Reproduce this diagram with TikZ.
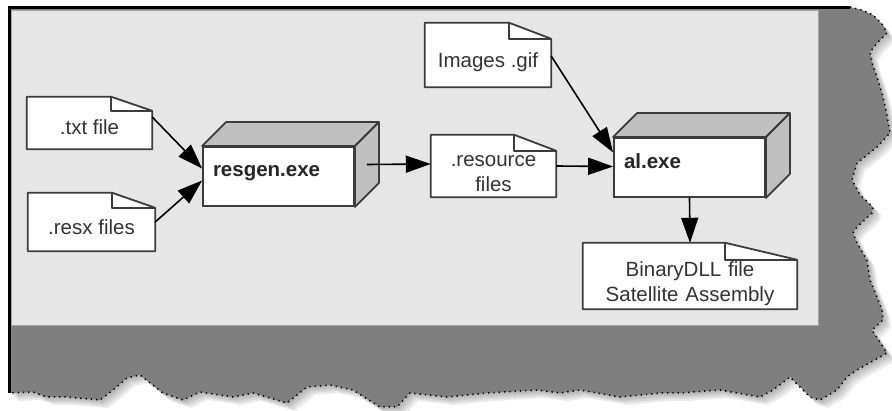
\documentclass[tikz,border=0pt]{standalone}
\usepackage{fontspec}
\setmainfont{Liberation Sans}
\usetikzlibrary{arrows.meta}
\definecolor{paper}{HTML}{E6E6E6}
\definecolor{sheetgray}{HTML}{7F7F7F}
\definecolor{face}{HTML}{C0C0C0}
\definecolor{edge}{HTML}{3C3C3C}
\definecolor{ink}{HTML}{333333}
\pgfdeclarelayer{bg}
\pgfsetlayers{bg,main}
\begin{document}
\begin{tikzpicture}[x=1pt,y=-1pt,
  font=\fontsize{20.5}{24.5}\selectfont,
  doc/.style={inner sep=0pt, align=center, text=ink, text depth=0pt},
  docline/.style={draw=edge, line width=1.8pt, fill=white, line join=round},
  exe/.style={draw=edge, line width=1.8pt, fill=white, minimum width=151pt,
    minimum height=59pt, text width=131pt, inner xsep=10pt, inner ysep=0pt, align=left,
    font=\fontsize{20.5}{24.5}\selectfont\bfseries, text depth=12pt, text=black!85},
  cubeface/.style={draw=edge, line width=1.8pt, fill=face, line join=round},
  flow/.style={draw=black, line width=1.6pt, -{Triangle[length=25pt,width=17pt]}},
  torn/.style={draw=black, line width=1.5pt, dash pattern=on 1.3pt off 4pt}
]
\useasboundingbox (0,0) rectangle (892,411);

\def\tornpath{(850,7) -- (862,10) -- (873,15) -- (882,24) -- (887,33) -- (878,42) -- (870,52) -- (872,63) -- (878,80) -- (883,97) -- (887,115) -- (890,133) -- (877,147) -- (857,163) -- (852,180) -- (860,195) -- (873,207) -- (872,213) -- (857,227) -- (853,233) -- (857,243) -- (867,260) -- (870,280) -- (877,297) -- (882,310) -- (883,320) -- (872,330) -- (887,353) -- (857,370) -- (847,377) -- (837,390) -- (820,400) -- (810,397) -- (790,377) -- (773,390) -- (760,397) -- (720,390) -- (680,393) -- (660,393) -- (620,397) -- (580,390) -- (560,393) -- (537,390) -- (487,393) -- (447,397) -- (410,393) -- (397,407) -- (380,407) -- (353,390) -- (330,385) -- (307,387) -- (287,403) -- (253,393) -- (233,397) -- (200,392) -- (183,400) -- (163,393) -- (140,375) -- (127,378) -- (113,390) -- (100,400) -- (67,397) -- (47,397) -- (33,392) -- (10,393)}

\begin{pgfonlayer}{bg}
  % soft shadow of the torn sheet
  \foreach \s in {2,4,6,8}
    \fill[black, opacity=0.08, shift={(\s,\s)}] (9,7) -- \tornpath -- cycle;
  \fill[sheetgray] (9,7) -- \tornpath -- cycle;
  \draw[torn] \tornpath;
  % light panel
  \fill[paper, draw=gray!70, line width=0.6pt] (11,10) rectangle (818,325);
  % screenshot border
  \draw[black, line width=3pt] (8,8) -- (850,8);
  \draw[black, line width=3pt] (9.5,8) -- (9.5,393);
\end{pgfonlayer}

% documents
\node[doc, minimum width=125pt, minimum height=52pt, text height=24pt] (txt) at (89.5,123) {.txt file};
\node[doc, minimum width=127pt, minimum height=58pt, text height=26pt] (resx) at (91.5,222) {.resx files};
\node[doc, minimum width=126pt, minimum height=64pt, text height=26pt] (gif) at (488,55) {Images .gif};
\node[doc, minimum width=125pt, minimum height=62pt, text width=125pt, text height=26.5pt, text depth=24.5pt] (res) at (493.5,166) {.resource\\files};
\node[doc, minimum width=214pt, minimum height=66pt, text width=214pt, text height=30.8pt, text depth=28.8pt] (dll) at (690,276) {BinaryDLL file\\Satellite Assembly};

\begin{pgfonlayer}{bg}
  \foreach \n/\fw/\fh in {txt/41/14, resx/43/15, gif/42/16, res/42/16, dll/72/17}{
    \draw[docline] (\n.north west) -- ([xshift=-\fw pt]\n.north east)
      -- ([yshift=-\fh pt]\n.north east) -- (\n.south east) -- (\n.south west) -- cycle;
    \draw[draw=edge, line width=1.8pt, line join=round] ([xshift=-\fw pt]\n.north east)
      -- ([xshift=-\fw pt, yshift=-\fh pt]\n.north east) -- ([yshift=-\fh pt]\n.north east);
  }
\end{pgfonlayer}

% executables (boxes)
\node[exe] (resgen) at (278.5,176.5) {resgen.exe};
\node[exe] (al) at (689.5,167.5) {al.exe};
\foreach \n in {resgen, al}{
  \draw[cubeface] (\n.north west) -- ([shift={(24pt,24pt)}]\n.north west)
    -- ([shift={(24pt,24pt)}]\n.north east) -- (\n.north east) -- cycle;
  \draw[cubeface] (\n.north east) -- ([shift={(24pt,24pt)}]\n.north east)
    -- ([shift={(24pt,24pt)}]\n.south east) -- (\n.south east) -- cycle;
}

% connectors
\draw[flow] ([yshift=6pt]txt.east) -- ([yshift=8pt]resgen.west);
\draw[flow] (resx.east) -- ([yshift=-4pt]resgen.west);
\coordinate (rside) at ([shift={(12pt,12pt)}]resgen.east);
\draw[flow] (rside) -- ([yshift=2pt]res.west);
\draw[flow] (res.east) -- ([yshift=1pt]al.west);
\draw[flow] ([yshift=-1pt]gif.east) -- ([yshift=15pt]al.west);
\draw[flow] (al.south) -- (dll.north);
\end{tikzpicture}
\end{document}
